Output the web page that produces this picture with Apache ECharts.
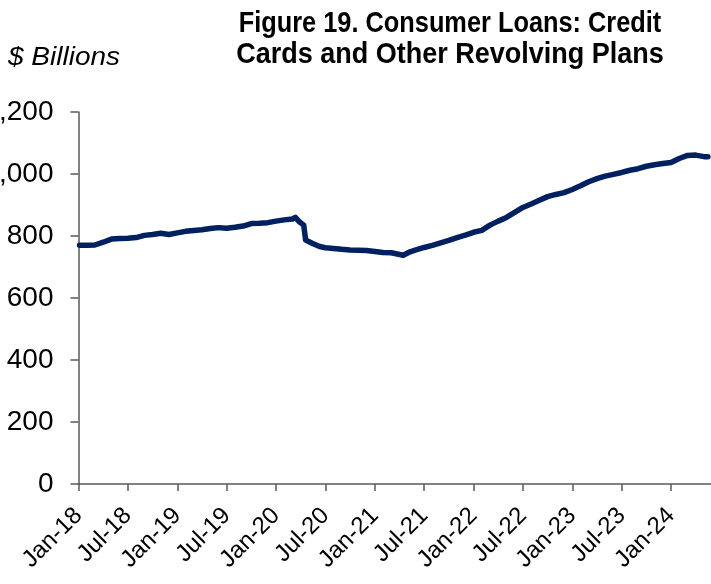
<!DOCTYPE html>
<html>
<head>
<meta charset="utf-8">
<script src="https://cdn.jsdelivr.net/npm/echarts@6/dist/echarts.min.js"></script>
<style>
  html, body { margin: 0; padding: 0; background: #fff; overflow: hidden; }
  #chart { width: 711px; height: 584px; }
</style>
</head>
<body>
<div id="chart"></div>
<script>
const dates = [
  "2018-01-05", "2018-02-01", "2018-03-01", "2018-04-01", "2018-05-01", "2018-06-01",
  "2018-07-01", "2018-08-01", "2018-09-01", "2018-10-01", "2018-11-01", "2018-12-01",
  "2019-01-01", "2019-02-01", "2019-03-01", "2019-04-01", "2019-05-01", "2019-06-01",
  "2019-07-01", "2019-08-01", "2019-09-01", "2019-10-01", "2019-11-01", "2019-12-01",
  "2020-01-01", "2020-02-01", "2020-03-01", "2020-03-12", "2020-03-28", "2020-04-12",
  "2020-04-19", "2020-05-15", "2020-06-10", "2020-07-01", "2020-08-01", "2020-09-01",
  "2020-10-01", "2020-11-01", "2020-12-01", "2021-01-01", "2021-02-01", "2021-03-01",
  "2021-04-15", "2021-05-10", "2021-06-01", "2021-07-01", "2021-08-01", "2021-09-01",
  "2021-10-01", "2021-11-01", "2021-12-01", "2022-01-01", "2022-02-01", "2022-03-01",
  "2022-04-01", "2022-05-01", "2022-06-01", "2022-07-01", "2022-08-01", "2022-09-01",
  "2022-10-01", "2022-11-01", "2022-12-01", "2023-01-01", "2023-02-01", "2023-03-01",
  "2023-04-01", "2023-05-01", "2023-06-01", "2023-07-01", "2023-08-01", "2023-09-01",
  "2023-10-01", "2023-11-01", "2023-12-01", "2024-01-01", "2024-02-01", "2024-03-01",
  "2024-04-01", "2024-05-01", "2024-05-16"
];
const loans = [
  770, 770, 771, 780, 790, 792,
  793, 795, 802, 805, 809, 805,
  810, 815, 818, 820, 824, 827,
  825, 828, 832, 840, 841, 843,
  848, 852, 855, 860, 845, 835,
  787, 776, 766, 762, 760, 757,
  755, 754, 753, 750, 747, 746,
  738, 749, 755, 763, 770, 778,
  786, 795, 803, 812, 818, 835,
  848, 860, 876, 892, 903, 915,
  927, 934, 940, 950, 962, 975,
  985, 993, 999, 1005, 1012, 1017,
  1025, 1030, 1034, 1037, 1050, 1060,
  1061, 1056, 1056
];
const xTickLabels = [
  "Jan-18", "Jul-18", "Jan-19", "Jul-19", "Jan-20", "Jul-20", "Jan-21",
  "Jul-21", "Jan-22", "Jul-22", "Jan-23", "Jul-23", "Jan-24"
];
const yTicks = [0, 200, 400, 600, 800, 1000, 1200];

// months since Jan 2018, fractional within the month
function monthOffset(d) {
  const [y, m, day] = d.split("-").map(Number);
  const dim = new Date(y, m, 0).getDate();
  return (y - 2018) * 12 + (m - 1) + (day - 1) / dim;
}

const points = dates.map((d, i) => [monthOffset(d), loans[i]]);

const axisColor = "#595959";
const font = "Liberation Sans, Arial, sans-serif";

// the source title is set in a narrow bold face; squeeze a regular bold one instead
function titleLine(text, y, scaleX) {
  return {
    type: "text",
    x: 450,
    y: y,
    scaleX: scaleX,
    style: { text: text, font: "bold 30px " + font, textAlign: "center", fill: "#000" },
  };
}

const chart = echarts.init(document.getElementById("chart"));
chart.setOption({
  animation: false,
  backgroundColor: "#fff",
  graphic: [
    titleLine("Figure 19. Consumer Loans: Credit", 9, 0.845),
    titleLine("Cards and Other Revolving Plans", 40, 0.9),
    {
      type: "text",
      x: 8,
      y: 46,
      scaleX: 1.12,
      style: { text: "$ Billions", font: "italic 25px " + font, textAlign: "left", fill: "#000" },
    },
  ],
  grid: { left: 78.5, right: -2, top: 112, bottom: 100, outerBoundsMode: "none" },
  xAxis: {
    type: "value",
    min: 0,
    max: 77.1,
    interval: 6,
    splitLine: { show: false },
    axisLine: { lineStyle: { color: axisColor, width: 1.5 } },
    axisTick: { length: 7, lineStyle: { color: axisColor, width: 1.5 } },
    axisLabel: {
      rotate: 45,
      margin: 28,
      fontSize: 24,
      fontFamily: font,
      color: "#000",
      formatter: (v) => {
        const k = v / 6;
        return Number.isInteger(k) && k < xTickLabels.length ? xTickLabels[k] : "";
      },
    },
  },
  yAxis: {
    type: "value",
    min: yTicks[0],
    max: yTicks[yTicks.length - 1],
    interval: 200,
    splitLine: { show: false },
    axisLine: { show: true, lineStyle: { color: axisColor, width: 1.5 } },
    axisTick: { show: true, length: 8, lineStyle: { color: axisColor, width: 1.5 } },
    axisLabel: {
      margin: 25,
      fontSize: 28,
      fontFamily: font,
      color: "#000",
      formatter: (v) => v.toLocaleString("en-US"),
    },
  },
  series: [
    {
      type: "line",
      data: points,
      showSymbol: false,
      lineStyle: { color: "#002060", width: 5.5, join: "round", cap: "round" },
    },
  ],
});
</script>
</body>
</html>
